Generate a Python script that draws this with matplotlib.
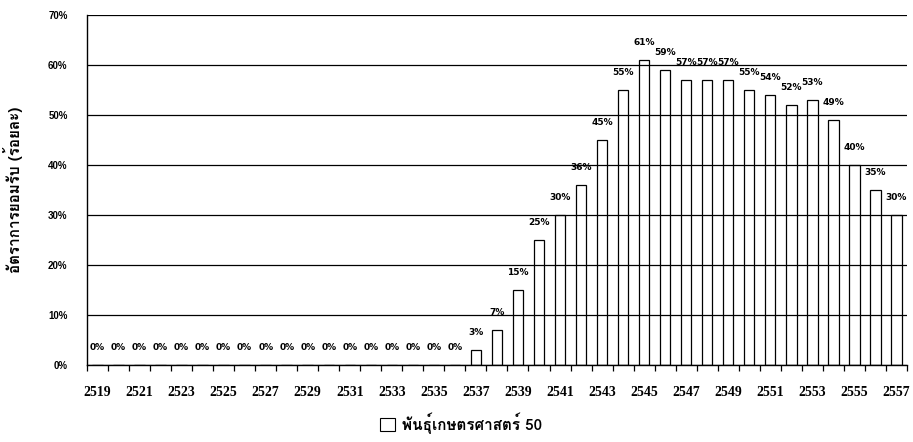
import matplotlib
matplotlib.use("Agg")
import matplotlib.pyplot as plt
from matplotlib import font_manager
from matplotlib.ft2font import FT2Font
from matplotlib.patches import Patch

years = list(range(2519, 2558))
rates = [0] * 18 + [3, 7, 15, 25, 30, 36, 45, 55, 61, 59, 57, 57, 57,
                    55, 54, 52, 53, 49, 40, 35, 30]
series_name = "พันธุ์เกษตรศาสตร์ 50"
y_title = "อัตราการยอมรับ (ร้อยละ)"


def thai_font():
    # pick any installed family that actually has Thai glyphs
    for f in font_manager.fontManager.ttflist:
        try:
            if ord("อ") in FT2Font(f.fname).get_charmap():
                return f.name
        except Exception:
            pass
    return "DejaVu Sans"


thai = thai_font()

fig = plt.figure(figsize=(9.13, 4.42), dpi=100)
ax = fig.add_axes([0.0953, 0.174, 0.898, 0.792])

x = list(range(len(years)))
ax.bar(x, rates, width=0.5, color="white", edgecolor="black", linewidth=0.9,
       label=series_name, zorder=2)

for xi, v in zip(x, rates):
    ax.text(xi, v + 2.6, f"{v}%", ha="center", va="bottom", fontsize=6.5,
            fontweight="bold", family=["Liberation Sans Narrow", "DejaVu Sans"],
            zorder=4)

ax.set_xlim(-0.5, len(years) - 0.5)
ax.set_ylim(0, 70)
ax.set_yticks(range(0, 71, 10))
ax.set_yticklabels([f"{t}%" for t in range(0, 71, 10)], fontsize=7,
                   fontweight="bold", family="Liberation Sans")
ax.yaxis.grid(True, color="black", linewidth=0.9)
ax.set_axisbelow(False)
for gl in ax.get_ygridlines():
    gl.set_zorder(3)

# category boundaries carry the tick marks, every second year gets a label
ax.set_xticks([i - 0.5 for i in range(len(years) + 1)], minor=True)
ax.set_xticks(x[::2])
ax.set_xticklabels([str(y) for y in years[::2]], fontsize=10,
                   fontweight="bold", family="Liberation Serif")
ax.tick_params(axis="x", which="major", length=0, pad=15)
ax.tick_params(axis="x", which="minor", length=4, direction="out", width=0.9)
ax.tick_params(axis="y", length=0, pad=14)

ax.spines["right"].set_visible(False)
ax.spines["top"].set_visible(False)
ax.spines["left"].set_linewidth(1.0)
ax.spines["bottom"].set_linewidth(1.0)

ax.set_ylabel(y_title, family=[thai, "DejaVu Sans"], fontsize=11,
              fontweight="bold", labelpad=18)

leg = fig.legend(handles=[Patch(facecolor="white", edgecolor="black",
                                linewidth=0.8, label=series_name)],
                 loc="center", bbox_to_anchor=(0.505, 0.043), frameon=False,
                 prop={"family": [thai, "DejaVu Sans"], "size": 11,
                       "weight": "bold"},
                 handlelength=1.0, handleheight=1.0, handletextpad=0.5)

fig.savefig("out.png", dpi=100)
